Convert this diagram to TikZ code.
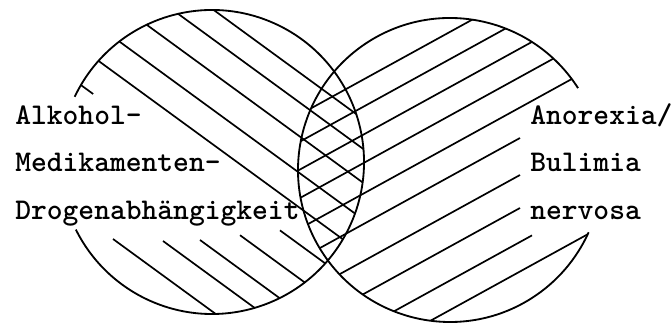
\documentclass[tikz,border=0pt]{standalone}
\usepackage{tikz}

\begin{document}
\begin{tikzpicture}[venntext/.style={font=\ttfamily\bfseries\fontsize{21.4}{25}\selectfont, inner sep=0pt, anchor=base west},
  hatch/.style={line width=1.2pt},
  ring/.style={line width=1.3pt}]
  \useasboundingbox (0,0) rectangle (16.775,8.125);

  % Centres of the two circles
  \coordinate (left) at (5.3,4.075);
  \coordinate (right) at (11.25,3.875);

  % Hatching of the left circle
  \begin{scope}
    \clip (left) circle (3.8);
    \foreach \k in {8.4, 9.265, 10.1825, 11.03, 11.775}
      \draw[hatch] (1,{\k-0.73}) -- ++(-36.13:12);
    \foreach \p in {(2.825,2.15), (4.075,2.1), (5.0,2.125), (6.0,2.245), (7.0,2.365)}
      \draw[hatch] \p -- ++(-36.13:4);
    \draw[hatch] (2.329,5.775) -- ++(143.87:1);
  \end{scope}

  % Hatching of the right circle
  \begin{scope}
    \clip (right) circle (3.8);
    \foreach \m in {1.14, 0.46, -0.2375, -0.95, -1.7125, -5.8125}
      \draw[hatch] (7,{0.55*7+\m}) -- ++(28.81:12);
    \foreach \p in {(13,4.675), (13,3.75), (13,2.925), (13.3,2.24)}
      \draw[hatch] \p -- ++(-151.19:8);
  \end{scope}

  % Circles, open where the labels stand
  \draw[ring] (left) ++(154.6:3.8) arc[start angle=154.6, end angle=-153.6, radius=3.8];
  \draw[ring] (right) ++(32.6:3.8) arc[start angle=32.6, end angle=335.8, radius=3.8];

  % Labels
  \node[venntext] (alkohol) at (0.375,5.0) {Alkohol-};
  \node[venntext] (medikamente) at (0.375,3.825) {Medikamenten-};
  \node[venntext] (drogen) at (0.375,2.625) {Drogenabhängigkeit};
  \node[venntext] (anorexia) at (13.25,5.0) {Anorexia/};
  \node[venntext] (bulimia) at (13.25,3.825) {Bulimia};
  \node[venntext] (nervosa) at (13.25,2.625) {nervosa};

\end{tikzpicture}
\end{document}
